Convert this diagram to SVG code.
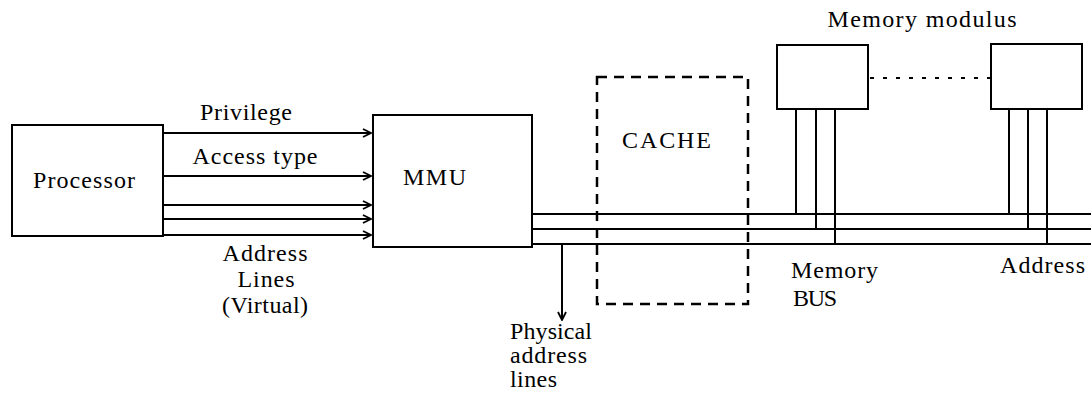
<svg xmlns="http://www.w3.org/2000/svg" width="1091" height="410" viewBox="0 0 1091 410">
<style>
text { font-family: "Liberation Serif", "Times New Roman", serif; font-size: 24px; fill: #000; }
.box { fill: #fff; stroke: #000; stroke-width: 2; }
.dash { fill: none; stroke: #000; stroke-width: 2.5; stroke-dasharray: 10 7; }
.ln { fill: none; stroke: #000; stroke-width: 2; }
.dot { fill: none; stroke: #000; stroke-width: 2; stroke-dasharray: 4 9; }
</style>
<defs>
<marker id="arr" viewBox="0 0 10 10" refX="9" refY="5" markerWidth="10" markerHeight="10" markerUnits="userSpaceOnUse" orient="auto">
<path d="M1,1 L9,5 L1,9" fill="none" stroke="#000" stroke-width="1.8"/>
</marker>
</defs>
<rect width="1091" height="410" fill="#fff"/>

<g id="connectors">
<line class="ln" x1="163" y1="133" x2="371" y2="133" marker-end="url(#arr)"/>
<line class="ln" x1="163" y1="176" x2="371" y2="176" marker-end="url(#arr)"/>
<line class="ln" x1="163" y1="205" x2="371" y2="205" marker-end="url(#arr)"/>
<line class="ln" x1="163" y1="219" x2="371" y2="219" marker-end="url(#arr)"/>
<line class="ln" x1="163" y1="235" x2="371" y2="235" marker-end="url(#arr)"/>
<line class="ln" x1="532" y1="214" x2="1091" y2="214"/>
<line class="ln" x1="532" y1="229" x2="1091" y2="229"/>
<line class="ln" x1="532" y1="244" x2="1091" y2="244"/>
<line class="ln" x1="562" y1="244" x2="562" y2="320" marker-end="url(#arr)"/>
<line class="ln" x1="796" y1="109" x2="796" y2="214"/>
<line class="ln" x1="816" y1="109" x2="816" y2="229"/>
<line class="ln" x1="835" y1="109" x2="835" y2="244"/>
<line class="ln" x1="1009" y1="109" x2="1009" y2="214"/>
<line class="ln" x1="1028" y1="109" x2="1028" y2="229"/>
<line class="ln" x1="1047" y1="109" x2="1047" y2="244"/>
<line class="dot" x1="870" y1="78" x2="990" y2="78"/>
<text x="246" y="120" text-anchor="middle" textLength="92">Privilege</text>
<text x="255" y="164" text-anchor="middle" textLength="125">Access type</text>
<text x="265" y="261" text-anchor="middle" textLength="85">Address</text>
<text x="266" y="287" text-anchor="middle" textLength="57">Lines</text>
<text x="265" y="313" text-anchor="middle" textLength="86">(Virtual)</text>
<text x="510" y="339" textLength="82">Physical</text>
<text x="510" y="363" textLength="77">address</text>
<text x="510" y="387" textLength="47">lines</text>
<text x="791" y="278" textLength="87">Memory</text>
<text x="793" y="306" textLength="44">BUS</text>
<text x="1000" y="273" textLength="85">Address</text>
</g>

<g id="processor">
<rect class="box" x="12" y="125" width="151" height="111"/>
<text x="84" y="188" text-anchor="middle" textLength="102">Processor</text>
</g>

<g id="mmu">
<rect class="box" x="373" y="115" width="159" height="132"/>
<text x="403" y="185" textLength="63">MMU</text>
</g>

<g id="cache">
<rect class="dash" x="597" y="77" width="151" height="227"/>
<text x="622" y="148" textLength="89">CACHE</text>
</g>

<g id="memory-modules">
<text x="922" y="27" text-anchor="middle" textLength="189">Memory modulus</text>
<g id="mem1"><rect class="box" x="777" y="45" width="91" height="64"/></g>
<g id="mem2"><rect class="box" x="991" y="44" width="91" height="65"/></g>
</g>
</svg>
